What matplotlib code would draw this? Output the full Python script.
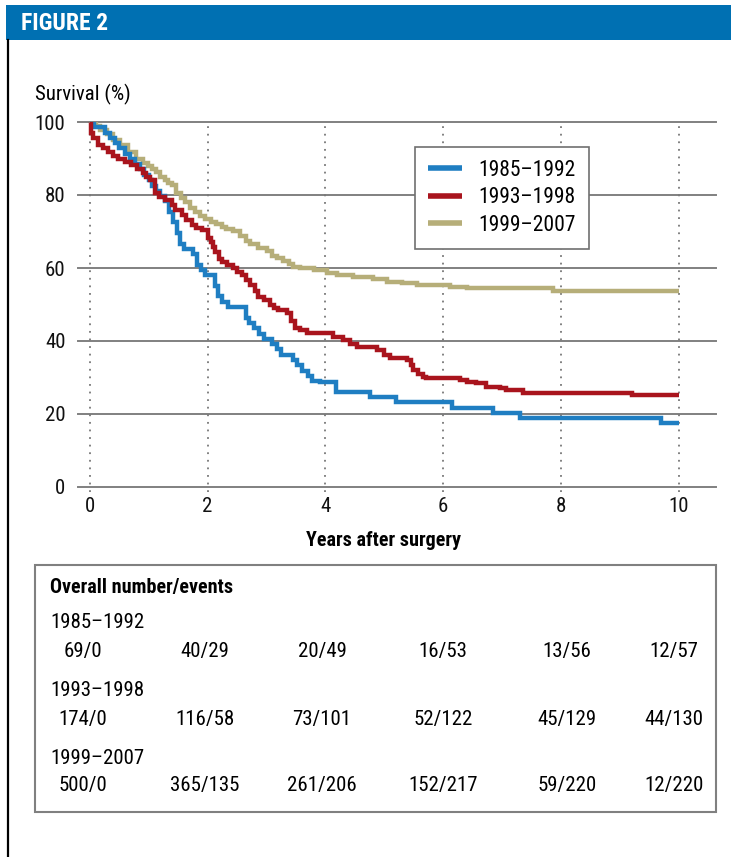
import matplotlib
matplotlib.use("Agg")
import matplotlib.pyplot as plt
from matplotlib import font_manager
from matplotlib.lines import Line2D
from matplotlib.patches import Rectangle

# Kaplan-Meier style curves (years, survival % after the step)
t_1985 = [0, 0.08, 0.25, 0.35, 0.42, 0.5, 0.59, 0.68, 0.76, 0.85, 0.92, 1.0, 1.05,
          1.12, 1.2, 1.27, 1.35, 1.42, 1.48, 1.53, 1.6, 1.75, 1.82, 1.88, 1.95,
          2.12, 2.18, 2.25, 2.35, 2.65, 2.7, 2.78, 2.88, 2.95, 3.1, 3.17, 3.25,
          3.45, 3.52, 3.6, 3.7, 3.78, 3.9, 4.18, 4.75, 5.2, 6.15, 6.85, 7.3, 9.7, 10.0]
s_1985 = [100, 98.6, 97.1, 95.7, 94.2, 92.8, 91.3, 89.9, 88.4, 87.0, 85.5, 84.1, 82.6,
          81.2, 79.7, 78.3, 75.4, 72.5, 69.6, 66.7, 65.2, 63.8, 60.9, 59.4, 58.0,
          55.1, 52.2, 50.7, 49.3, 46.4, 44.9, 43.5, 42.0, 40.6, 39.1, 37.7, 36.2,
          34.8, 33.3, 31.9, 30.4, 29.0, 28.8, 26.1, 24.6, 23.2, 21.7, 20.3, 18.8, 17.4, 17.4]

t_1993 = [0, 0.02, 0.05, 0.14, 0.22, 0.31, 0.4, 0.48, 0.59, 0.7, 0.8, 0.9, 0.96, 1.02,
          1.1, 1.18, 1.27, 1.39, 1.45, 1.56, 1.64, 1.73, 1.81, 1.9, 2.01, 2.05, 2.09,
          2.12, 2.2, 2.24, 2.33, 2.43, 2.5, 2.58, 2.65, 2.72, 2.8, 2.86, 2.96, 3.06,
          3.13, 3.2, 3.34, 3.41, 3.48, 3.57, 3.68, 4.13, 4.3, 4.41, 4.53, 4.87, 5.0,
          5.09, 5.38, 5.45, 5.49, 5.57, 5.66, 5.71, 6.28, 6.4, 6.56, 6.73, 6.96, 7.07,
          7.36, 9.2, 10.0]
s_1993 = [100, 97.0, 95.6, 93.7, 92.8, 91.9, 90.8, 90.0, 89.1, 88.2, 87.0, 85.9, 85.0, 84.1,
          80.5, 79.5, 78.6, 77.3, 76.0, 74.5, 73.2, 71.8, 70.9, 70.4, 68.1, 67.2, 65.8,
          64.5, 62.6, 61.7, 60.8, 59.9, 59.0, 58.1, 56.7, 55.3, 53.6, 52.1, 51.2, 50.0,
          49.0, 48.5, 47.6, 45.5, 43.5, 43.0, 42.1, 41.2, 40.3, 39.2, 38.4, 37.5, 36.2,
          35.3, 34.8, 33.4, 32.1, 31.0, 30.2, 29.8, 29.3, 28.8, 28.4, 27.5, 27.0, 26.6,
          25.7, 25.2, 25.2]

t_1999 = [0, 0.1, 0.17, 0.3, 0.4, 0.51, 0.65, 0.79, 0.9, 0.99, 1.06, 1.13, 1.19, 1.27,
          1.33, 1.39, 1.47, 1.55, 1.61, 1.7, 1.78, 1.87, 1.95, 2.05, 2.15, 2.25, 2.32,
          2.43, 2.55, 2.66, 2.72, 2.85, 3.0, 3.1, 3.17, 3.28, 3.38, 3.45, 3.57, 3.8,
          4.02, 4.2, 4.47, 4.8, 5.04, 5.3, 5.55, 6.11, 6.4, 7.87, 10.0]
s_1999 = [100, 99.0, 97.8, 96.6, 95.2, 93.7, 91.9, 89.8, 88.8, 88.0, 87.0, 86.2, 85.0, 84.2,
          83.2, 82.7, 80.5, 79.3, 78.0, 76.5, 75.4, 74.3, 73.4, 72.6, 72.0, 71.3, 70.8,
          70.2, 68.8, 67.3, 66.6, 65.6, 64.6, 63.4, 62.7, 61.8, 61.0, 60.4, 60.0, 59.4,
          58.6, 58.2, 57.6, 57.0, 56.3, 55.8, 55.3, 54.9, 54.4, 53.8, 53.8]

periods = ["1985–1992", "1993–1998", "1999–2007"]
colors = ["#1f7ec2", "#a9141d", "#b6ae79"]

x_ticks = [0, 2, 4, 6, 8, 10]
y_ticks = [0, 20, 40, 60, 80, 100]

row_1985 = ["69/0", "40/29", "20/49", "16/53", "13/56", "12/57"]
row_1993 = ["174/0", "116/58", "73/101", "52/122", "45/129", "44/130"]
row_1999 = ["500/0", "365/135", "261/206", "152/217", "59/220", "12/220"]

# pick a condensed sans if there is one
installed = {f.name for f in font_manager.fontManager.ttflist}
family = "Liberation Sans"
for cand in ["Liberation Sans Narrow", "Roboto Condensed", "Liberation Sans"]:
    if cand in installed:
        family = cand
        break
plt.rcParams["font.family"] = [family, "DejaVu Sans"]

W, H = 731, 857
fig = plt.figure(figsize=(W / 100, H / 100), dpi=100)


def fx(px):
    return px / W


def fy(py):
    return 1 - py / H


# header bar and left rule
fig.patches.append(Rectangle((fx(6), fy(40)), 1, 35 / H, transform=fig.transFigure,
                             facecolor="#0070b2", edgecolor="none"))
fig.text(fx(21), fy(23), "FIGURE 2", color="white", fontsize=17, fontweight="bold",
         va="center", ha="left")
fig.lines.append(Line2D([fx(8), fx(8)], [0, fy(40)], transform=fig.transFigure,
                        color="black", lw=1.6))

ax = fig.add_axes([fx(78), fy(487), (716 - 78) / W, 365 / H])
ax.set_xlim(-0.2, 10.63)
ax.set_ylim(0, 100)
for s in ax.spines.values():
    s.set_visible(False)
ax.set_xticks(x_ticks)
ax.set_yticks(y_ticks)
ax.tick_params(length=0, labelsize=15, colors="#111111")
ax.tick_params(axis="y", pad=9)
ax.tick_params(axis="x", pad=7)

for y in y_ticks:
    ax.axhline(y, color="#808080", lw=1.4, clip_on=False, zorder=1)
ax.vlines(x_ticks, -1.5, 100, colors="#777777", lw=1.3, linestyles=(0, (1, 3.2)),
          clip_on=False, zorder=1)

for t, s, c, lab in [(t_1999, s_1999, colors[2], periods[2]),
                     (t_1985, s_1985, colors[0], periods[0]),
                     (t_1993, s_1993, colors[1], periods[1])]:
    ax.step(t, s, where="post", color=c, lw=3.2, label=lab, zorder=3,
            solid_joinstyle="miter", solid_capstyle="butt")

handles, labels = ax.get_legend_handles_labels()
order = [labels.index(p) for p in periods]
leg = fig.legend([handles[i] for i in order], [labels[i] for i in order],
                 loc="upper left", bbox_to_anchor=(fx(415), fy(147)),
                 fontsize=15.5, frameon=True, fancybox=False, edgecolor="#707070",
                 framealpha=1, handlelength=1.6, handletextpad=0.75,
                 labelspacing=0.3, borderpad=0.6, borderaxespad=0)
leg.get_frame().set_linewidth(1.2)
for h in leg.get_lines():
    h.set_linewidth(4)

fig.text(fx(35), fy(94), "Survival (%)", fontsize=15, ha="left", va="center")
fig.text(fx(384), fy(540), "Years after surgery", fontsize=14.5, fontweight="bold",
         ha="center", va="center")

# table of numbers at risk / events
fig.patches.append(Rectangle((fx(35), fy(812)), (716 - 35) / W, (812 - 565) / H,
                             transform=fig.transFigure, facecolor="none",
                             edgecolor="#808080", lw=1.5))
fig.text(fx(50), fy(588), "Overall number/events", fontsize=14.5, fontweight="bold",
         ha="left", va="center")
col_px = [83, 205, 322, 443, 567, 674]
label_py = [622, 690, 758]
value_py = [652, 719, 786]
for row, name, ly, vy in zip([row_1985, row_1993, row_1999], periods, label_py, value_py):
    fig.text(fx(50), fy(ly), name, fontsize=15, ha="left", va="center")
    for cx, val in zip(col_px, row):
        fig.text(fx(cx), fy(vy), val, fontsize=15, ha="center", va="center")

fig.savefig("out.png", dpi=100)
